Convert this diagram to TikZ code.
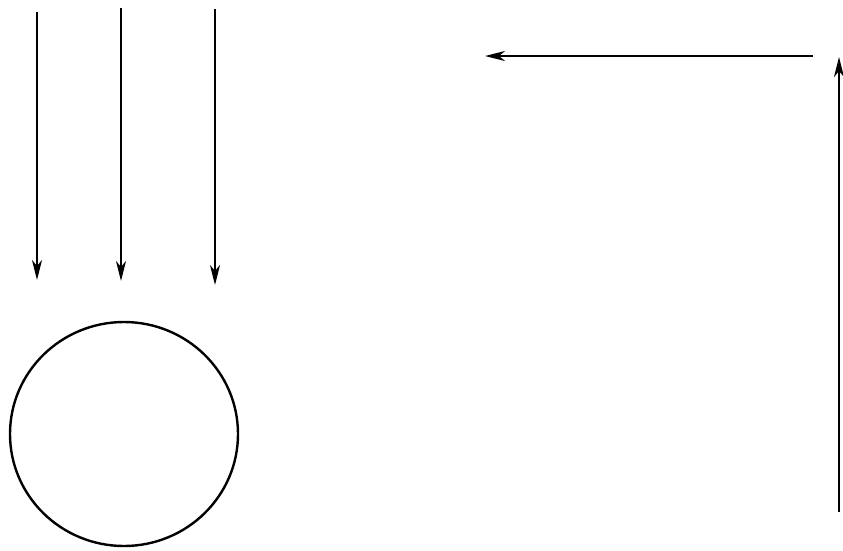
\documentclass[tikz,border=0pt]{standalone}
\usetikzlibrary{arrows.meta,shapes.geometric}
\begin{document}
\begin{tikzpicture}[x=1pt,y=-1pt,
  ray/.style={line width=2.2pt,-{Stealth[length=20pt,width=10pt,inset=6pt]}},
  ball/.style={line width=2.4pt}]
\useasboundingbox (0,0) rectangle (843,550);
\coordinate (a1s) at (37,12);  \coordinate (a1e) at (37,280);
\coordinate (a2s) at (121,8);  \coordinate (a2e) at (121,281);
\coordinate (a3s) at (215,9);  \coordinate (a3e) at (215,285);
\coordinate (hs) at (813,56);  \coordinate (he) at (485,56);
\coordinate (vs) at (839,512); \coordinate (ve) at (839,57);
\draw[ray] (a1s) -- (a1e);
\draw[ray] (a2s) -- (a2e);
\draw[ray] (a3s) -- (a3e);
\draw[ray] (hs) -- (he);
\draw[ray] (vs) -- (ve);
\node[ball,draw,ellipse,minimum width=228pt,minimum height=224pt,inner sep=0pt] (sphere) at (124,434) {};
\end{tikzpicture}
\end{document}
